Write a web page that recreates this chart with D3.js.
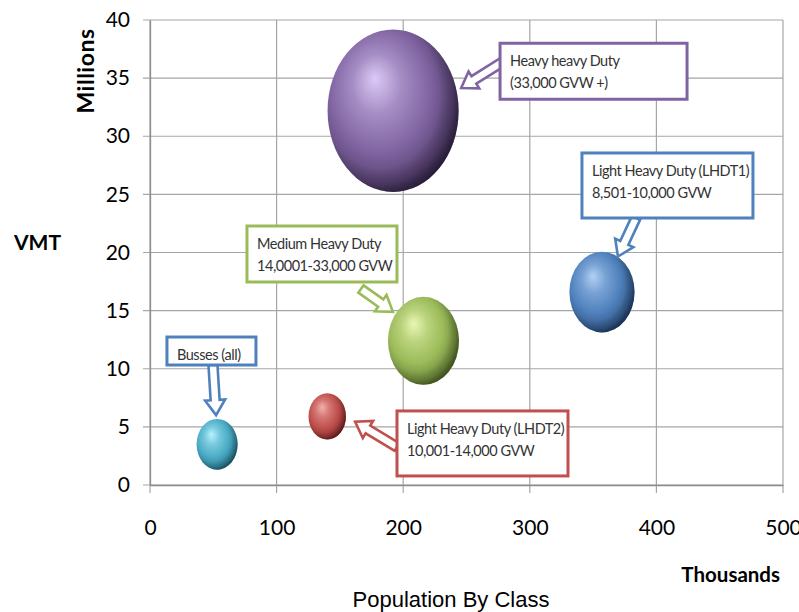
<!DOCTYPE html>
<html>
<head>
<meta charset="utf-8">
<script src="https://cdn.jsdelivr.net/npm/d3@7"></script>
<style>
  html, body { margin: 0; padding: 0; background: #ffffff; }
  svg { display: block; }
</style>
</head>
<body>
<svg id="chart" width="799" height="612"></svg>
<script>
// Vehicle classes: population (thousands), VMT (millions), bubble size
const classes = [
  "Busses (all)",
  "Light Heavy Duty (LHDT2)",
  "Medium Heavy Duty",
  "Heavy heavy Duty",
  "Light Heavy Duty (LHDT1)"
];
const population = [53, 140, 216, 192, 357];
const vmt = [3.5, 5.9, 12.4, 32.2, 16.6];
const bubbleSize = [4.2, 3.5, 12.6, 42.9, 10.6];

const xTicks = [0, 100, 200, 300, 400, 500];
const yTicks = [0, 5, 10, 15, 20, 25, 30, 35, 40];

// Callout text, one array of lines per class
const calloutLines = [
  ["Busses (all)"],
  ["Light Heavy Duty (LHDT2)", "10,001-14,000 GVW"],
  ["Medium Heavy Duty", "14,0001-33,000 GVW"],
  ["Heavy heavy Duty", "(33,000 GVW +)"],
  ["Light Heavy Duty (LHDT1)", "8,501-10,000 GVW"]
];

// Palette (fill base, highlight, shadow, callout border)
const palette = [
  { base: "#4bacc6", light: "#b6f2ff", dark: "#134b5a", border: "#4f81bd" },
  { base: "#c0504d", light: "#f3b1ae", dark: "#561615", border: "#c0504d" },
  { base: "#9bbb59", light: "#e9f7b4", dark: "#3b4d1c", border: "#9bbb59" },
  { base: "#8064a2", light: "#dccaf7", dark: "#261a36", border: "#8064a2" },
  { base: "#4f81bd", light: "#b2d0f5", dark: "#172e4d", border: "#4f81bd" }
];

// Callout layout: box anchor (data units, top-left), box size (px),
// arrow tail offset from box corner (px), arrow tip relative to bubble (in radii)
const calloutLayout = [
  { bx: 13.4,  by: 12.73, w: 89,  h: 28, tail: [46, 28],  tip: [-0.05, -1.15] },
  { bx: 195.1, by: 6.37,  w: 171, h: 65, tail: [0, 36],   tip: [1.49, 0.23] },
  { bx: 76.6,  by: 22.28, w: 150, h: 56, tail: [114, 63], tip: [-0.86, -0.66] },
  { bx: 276.5, by: 38.0,  w: 187, h: 56, tail: [2, 19],   tip: [1.04, -0.28] },
  { bx: 341.2, by: 28.56, w: 171, h: 65, tail: [54, 65],  tip: [0.49, -0.88] }
];

const svg = d3.select("#chart");
const uiFont = "Lato, 'Open Sans', sans-serif";

const x = d3.scaleLinear().domain([0, 500]).range([150, 783]);
const y = d3.scaleLinear().domain([0, 40]).range([485, 20]);
const r = d3.scaleSqrt().domain([0, 42.9]).range([0, 65.5]);
const aspect = 1.24;

// Gridlines
const grid = svg.append("g");
grid.selectAll("line.h").data(yTicks).join("line")
  .attr("x1", 143).attr("x2", 783)
  .attr("y1", d => y(d)).attr("y2", d => y(d))
  .attr("stroke", "#a6a6a6").attr("stroke-width", 1.2);
grid.selectAll("line.v").data(xTicks).join("line")
  .attr("x1", d => x(d)).attr("x2", d => x(d))
  .attr("y1", 20).attr("y2", 493)
  .attr("stroke", "#a6a6a6").attr("stroke-width", 1.2);

// Axes
const yAxis = d3.axisLeft(y).tickValues(yTicks).tickSize(0).tickPadding(20);
const xAxis = d3.axisBottom(x).tickValues(xTicks).tickSize(0).tickPadding(35);
const gy = svg.append("g").attr("transform", `translate(${x(0)},0)`).call(yAxis);
const gx = svg.append("g").attr("transform", `translate(0,${y(0)})`).call(xAxis);
[gx, gy].forEach(g => {
  g.select(".domain").attr("stroke", "#8c8c8c").attr("stroke-width", 1.3);
  g.selectAll("text").attr("font-family", uiFont).attr("font-size", 21).attr("fill", "#000");
});

// Bubble gradients
const defs = svg.append("defs");
palette.forEach((p, i) => {
  const g = defs.append("radialGradient").attr("id", "ball" + i)
    .attr("cx", "0.42").attr("cy", "0.42").attr("r", "0.62")
    .attr("fx", "0.36").attr("fy", "0.30");
  g.append("stop").attr("offset", "0").attr("stop-color", p.light);
  g.append("stop").attr("offset", "0.3").attr("stop-color", d3.interpolateRgb(p.light, p.base)(0.6));
  g.append("stop").attr("offset", "0.62").attr("stop-color", p.base);
  g.append("stop").attr("offset", "0.88").attr("stop-color", d3.interpolateRgb(p.base, p.dark)(0.45));
  g.append("stop").attr("offset", "1").attr("stop-color", p.dark);
  const rim = defs.append("radialGradient").attr("id", "rim" + i)
    .attr("cx", "0.4").attr("cy", "0.4").attr("r", "0.65");
  rim.append("stop").attr("offset", "0.7").attr("stop-color", p.dark).attr("stop-opacity", 0);
  rim.append("stop").attr("offset", "1").attr("stop-color", p.dark).attr("stop-opacity", 0.6);
});

const bubbles = classes.map((c, i) => ({
  name: c, i,
  cx: x(population[i]), cy: y(vmt[i]),
  rx: r(bubbleSize[i]), ry: r(bubbleSize[i]) * aspect
}));

const gb = svg.append("g");
gb.selectAll("ellipse.ball").data(bubbles).join("ellipse")
  .attr("cx", d => d.cx).attr("cy", d => d.cy)
  .attr("rx", d => d.rx).attr("ry", d => d.ry)
  .attr("fill", d => `url(#ball${d.i})`);
gb.selectAll("ellipse.rim").data(bubbles).join("ellipse")
  .attr("cx", d => d.cx).attr("cy", d => d.cy)
  .attr("rx", d => d.rx).attr("ry", d => d.ry)
  .attr("fill", d => `url(#rim${d.i})`);

// Callouts with hollow block arrows
const gc = svg.append("g");
bubbles.forEach(b => {
  const L = calloutLayout[b.i];
  const col = palette[b.i].border;
  const bx = x(L.bx), by = y(L.by);
  const tx = bx + L.tail[0], ty = by + L.tail[1];
  const tipX = b.cx + L.tip[0] * b.rx, tipY = b.cy + L.tip[1] * b.ry;
  const len = Math.hypot(tx - tipX, ty - tipY);
  const ang = Math.atan2(tipY - ty, tipX - tx) * 180 / Math.PI;
  const sw = 4.5, hw = 10, hl = 15;
  const pts = [[0, -sw], [len - hl, -sw], [len - hl, -hw], [len, 0], [len - hl, hw], [len - hl, sw], [0, sw]];
  gc.append("polygon")
    .attr("points", pts.map(p => p.join(",")).join(" "))
    .attr("transform", `translate(${tx},${ty}) rotate(${ang})`)
    .attr("fill", "#fff").attr("stroke", col).attr("stroke-width", 2.6)
    .attr("stroke-linejoin", "miter");
  gc.append("rect")
    .attr("x", bx).attr("y", by).attr("width", L.w).attr("height", L.h)
    .attr("fill", "#fff").attr("stroke", col).attr("stroke-width", 3);
  calloutLines[b.i].forEach((line, k) => {
    gc.append("text")
      .attr("x", bx + 10).attr("y", by + 23 + k * 22)
      .attr("font-family", uiFont).attr("font-size", 14.5)
      .attr("letter-spacing", -0.45)
      .attr("fill", "#333").text(line);
  });
});

// Axis titles
svg.append("text")
  .attr("transform", "translate(94,71) rotate(-90)")
  .attr("text-anchor", "middle")
  .attr("font-family", uiFont).attr("font-weight", "bold").attr("font-size", 23)
  .attr("letter-spacing", 0.5)
  .text("Millions");
svg.append("text")
  .attr("x", 14).attr("y", 250)
  .attr("font-family", uiFont).attr("font-weight", "bold").attr("font-size", 21)
  .text("VMT");
svg.append("text")
  .attr("x", 780).attr("y", 582).attr("text-anchor", "end")
  .attr("font-family", uiFont).attr("font-weight", "bold").attr("font-size", 20.5)
  .text("Thousands");
svg.append("text")
  .attr("x", 451).attr("y", 607).attr("text-anchor", "middle")
  .attr("font-family", "'Liberation Sans', Arial, sans-serif").attr("font-size", 22)
  .text("Population By Class");
</script>
</body>
</html>
